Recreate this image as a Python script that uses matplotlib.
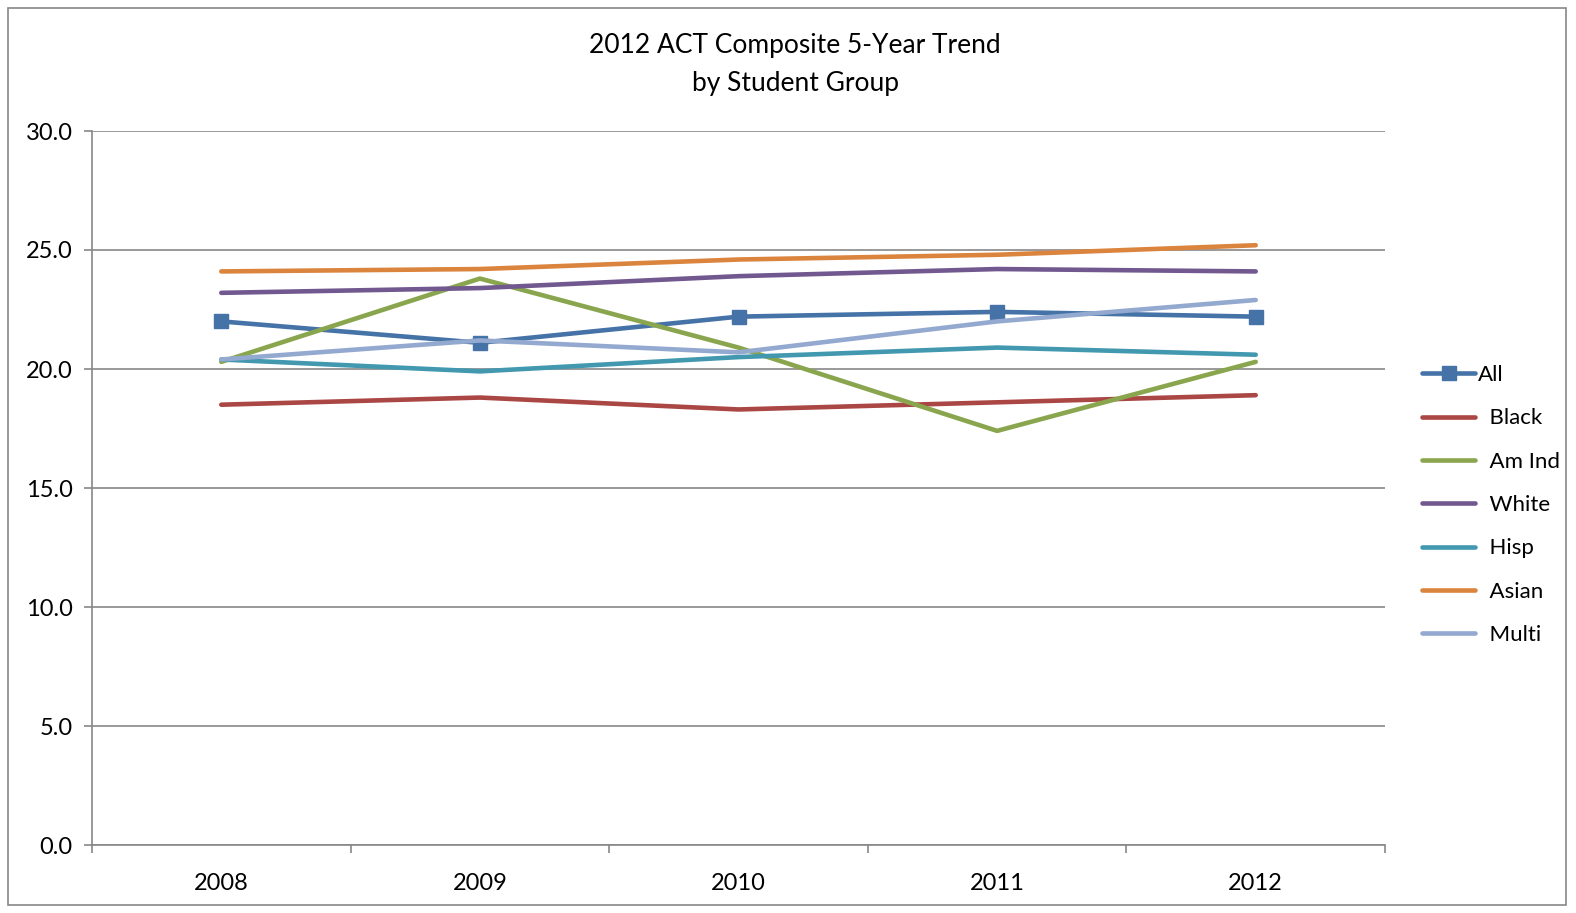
import matplotlib
matplotlib.use("Agg")
import matplotlib.pyplot as plt
from matplotlib.patches import Rectangle

years = ["2008", "2009", "2010", "2011", "2012"]
all_students = [22.0, 21.1, 22.2, 22.4, 22.2]
black = [18.5, 18.8, 18.3, 18.6, 18.9]
am_ind = [20.3, 23.8, 20.9, 17.4, 20.3]
white = [23.2, 23.4, 23.9, 24.2, 24.1]
hisp = [20.4, 19.9, 20.5, 20.9, 20.6]
asian = [24.1, 24.2, 24.6, 24.8, 25.2]
multi = [20.4, 21.2, 20.7, 22.0, 22.9]

series_names = ["All", "Black", "Am Ind", "White", "Hisp", "Asian", "Multi"]
series_values = [all_students, black, am_ind, white, hisp, asian, multi]
colors = ["#4572A7", "#AA4643", "#89A54E", "#71588F", "#4198AF", "#DB843D", "#93A9CF"]

plt.rcParams['font.family'] = ['Lato', 'DejaVu Sans']

fig = plt.figure(figsize=(15.76, 9.13), dpi=100)
ax = fig.add_axes([92/1576, 1-845/913, (1385-92)/1576, (845-131)/913])

x = list(range(len(years)))
for name, vals, c in zip(series_names, series_values, colors):
    if name == "All":
        ax.plot(x, vals, color=c, lw=3.3, marker='s', markersize=10, label=name,
                solid_capstyle='round', solid_joinstyle='round')
    else:
        ax.plot(x, vals, color=c, lw=3.3, label="  " + name,
                solid_capstyle='round', solid_joinstyle='round')

ax.set_xlim(-0.5, len(years) - 0.5)
ax.set_ylim(0, 30)
ax.set_yticks([0, 5, 10, 15, 20, 25, 30])
ax.set_yticklabels([f"{v:.1f}" for v in [0, 5, 10, 15, 20, 25, 30]], fontsize=17)
ax.set_xticks(x)
ax.set_xticklabels(years, fontsize=17)
ax.set_xticks([i - 0.5 for i in range(len(years) + 1)], minor=True)
ax.tick_params(axis='x', which='major', length=0, pad=20)
ax.tick_params(axis='x', which='minor', length=6, color='#878787', width=1.2, direction='out')
ax.tick_params(axis='y', length=6, color='#878787', width=1.2, direction='out', pad=8)
ax.grid(axis='y', color='#878787', lw=1.2)
ax.set_axisbelow(True)
for s in ['top', 'right']:
    ax.spines[s].set_visible(False)
for s in ['left', 'bottom']:
    ax.spines[s].set_color('#878787')
    ax.spines[s].set_linewidth(1.2)

fig.text(795/1576, 1-46/913, "2012 ACT Composite 5-Year Trend", ha='center', va='center', fontsize=19)
fig.text(795/1576, 1-83/913, "by Student Group", ha='center', va='center', fontsize=19)

leg = ax.legend(loc='center left', bbox_to_anchor=(1422/1576, 1-505/913),
                bbox_transform=fig.transFigure, frameon=False, fontsize=16,
                handlelength=2.4, handletextpad=0.1, labelspacing=1.05,
                borderpad=0, borderaxespad=0)

fig.patches.append(Rectangle((8/1576, 1-905/913), (1566-8)/1576, (905-8)/913,
                             transform=fig.transFigure, fill=False, edgecolor='#878787', lw=1.2))

fig.savefig("out.png", dpi=100, facecolor='white')
